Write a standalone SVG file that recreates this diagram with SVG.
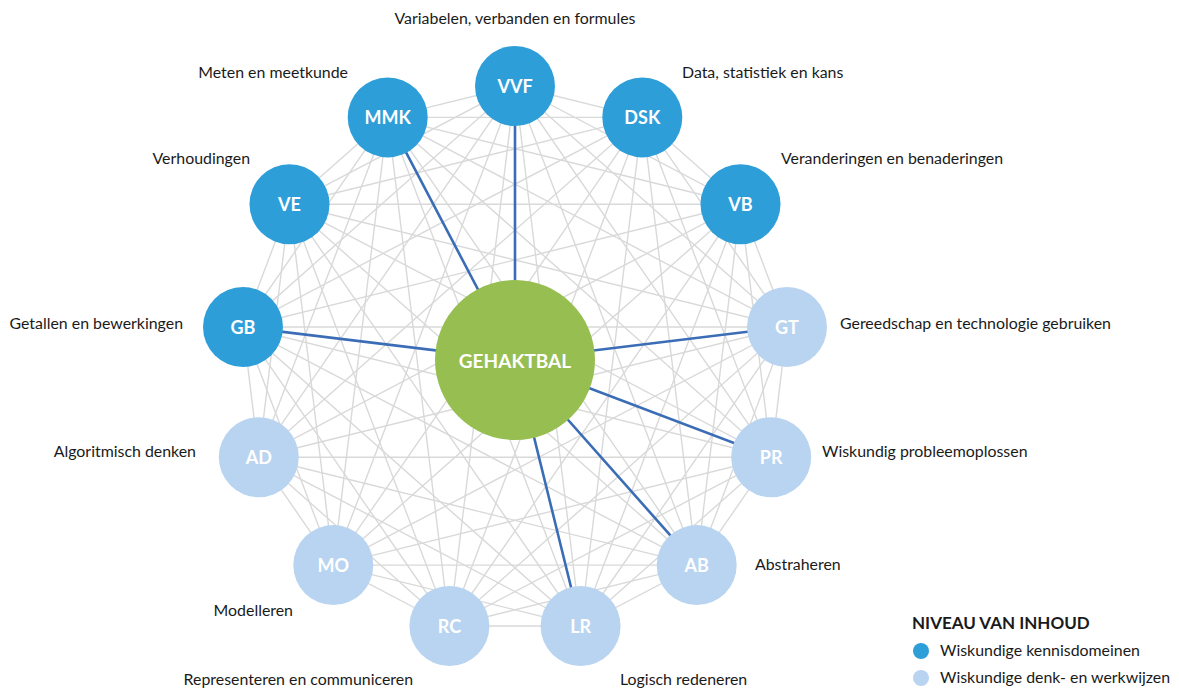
<svg xmlns="http://www.w3.org/2000/svg" width="1179" height="688" viewBox="0 0 1179 688">
<style>
.e{stroke:#d9d9d9;stroke-width:1.4;fill:none}
.b{stroke:#3a6db5;stroke-width:2.6;fill:none}
.k{fill:#2e9ed9}
.w{fill:#b9d4f0}
.c{fill:#96be50}
.n{font-family:Lato,"Open Sans","Liberation Sans",sans-serif;font-weight:bold;font-size:18px;fill:#fff;text-anchor:middle;dominant-baseline:central}
.g{font-size:19px}
.l{font-family:Lato,"Open Sans","Liberation Sans",sans-serif;font-size:15.9px;fill:#1a1a1a}
.h{font-family:Lato,"Open Sans","Liberation Sans",sans-serif;font-size:17px;font-weight:bold;fill:#1a1a1a}
</style>
<rect width="1179" height="688" fill="#fff"/>
<g id="connectors">
<g id="gray-edges">
<path class="e" d="M515,86L642.3,117.4M515,86L740.5,204.3M515,86L787,327M515,86L771.2,457.2M515,86L696.7,565.1M515,86L580.6,626M515,86L449.4,626M515,86L333.3,565.1M515,86L258.8,457.2M515,86L243,327M515,86L289.5,204.3M515,86L387.7,117.4"/>
<path class="e" d="M642.3,117.4L740.5,204.3M642.3,117.4L787,327M642.3,117.4L771.2,457.2M642.3,117.4L696.7,565.1M642.3,117.4L580.6,626M642.3,117.4L449.4,626M642.3,117.4L333.3,565.1M642.3,117.4L258.8,457.2M642.3,117.4L243,327M642.3,117.4L289.5,204.3M642.3,117.4L387.7,117.4"/>
<path class="e" d="M740.5,204.3L787,327M740.5,204.3L771.2,457.2M740.5,204.3L696.7,565.1M740.5,204.3L580.6,626M740.5,204.3L449.4,626M740.5,204.3L333.3,565.1M740.5,204.3L258.8,457.2M740.5,204.3L243,327M740.5,204.3L289.5,204.3M740.5,204.3L387.7,117.4"/>
<path class="e" d="M787,327L771.2,457.2M787,327L696.7,565.1M787,327L580.6,626M787,327L449.4,626M787,327L333.3,565.1M787,327L258.8,457.2M787,327L243,327M787,327L289.5,204.3M787,327L387.7,117.4"/>
<path class="e" d="M771.2,457.2L696.7,565.1M771.2,457.2L580.6,626M771.2,457.2L449.4,626M771.2,457.2L333.3,565.1M771.2,457.2L258.8,457.2M771.2,457.2L243,327M771.2,457.2L289.5,204.3M771.2,457.2L387.7,117.4"/>
<path class="e" d="M696.7,565.1L580.6,626M696.7,565.1L449.4,626M696.7,565.1L333.3,565.1M696.7,565.1L258.8,457.2M696.7,565.1L243,327M696.7,565.1L289.5,204.3M696.7,565.1L387.7,117.4"/>
<path class="e" d="M580.6,626L449.4,626M580.6,626L333.3,565.1M580.6,626L258.8,457.2M580.6,626L243,327M580.6,626L289.5,204.3M580.6,626L387.7,117.4"/>
<path class="e" d="M449.4,626L333.3,565.1M449.4,626L258.8,457.2M449.4,626L243,327M449.4,626L289.5,204.3M449.4,626L387.7,117.4"/>
<path class="e" d="M333.3,565.1L258.8,457.2M333.3,565.1L243,327M333.3,565.1L289.5,204.3M333.3,565.1L387.7,117.4"/>
<path class="e" d="M258.8,457.2L243,327M258.8,457.2L289.5,204.3M258.8,457.2L387.7,117.4"/>
<path class="e" d="M243,327L289.5,204.3M243,327L387.7,117.4"/>
<path class="e" d="M289.5,204.3L387.7,117.4"/>
</g>
<g id="blue-edges">
<path class="b" d="M515,360L387.7,117.4M515,360L515,86M515,360L243,327M515,360L787,327M515,360L771.2,457.2M515,360L696.7,565.1M515,360L580.6,626"/>
</g>
</g>
<g id="node-VVF"><circle class="k" cx="515" cy="86" r="40"/><text class="n" x="515" y="86">VVF</text><text class="l" x="515" y="24" text-anchor="middle">Variabelen, verbanden en formules</text></g>
<g id="node-DSK"><circle class="k" cx="642.3" cy="117.4" r="40"/><text class="n" x="642.3" y="117.4">DSK</text><text class="l" x="682" y="78">Data, statistiek en kans</text></g>
<g id="node-VB"><circle class="k" cx="740.5" cy="204.3" r="40"/><text class="n" x="740.5" y="204.3">VB</text><text class="l" x="781" y="164">Veranderingen en benaderingen</text></g>
<g id="node-GT"><circle class="w" cx="787" cy="327" r="40"/><text class="n" x="787" y="327">GT</text><text class="l" x="840" y="329">Gereedschap en technologie gebruiken</text></g>
<g id="node-PR"><circle class="w" cx="771.2" cy="457.2" r="40"/><text class="n" x="771.2" y="457.2">PR</text><text class="l" x="822" y="457">Wiskundig probleemoplossen</text></g>
<g id="node-AB"><circle class="w" cx="696.7" cy="565.1" r="40"/><text class="n" x="696.7" y="565.1">AB</text><text class="l" x="755" y="570">Abstraheren</text></g>
<g id="node-LR"><circle class="w" cx="580.6" cy="626" r="40"/><text class="n" x="580.6" y="626">LR</text><text class="l" x="620" y="685">Logisch redeneren</text></g>
<g id="node-RC"><circle class="w" cx="449.4" cy="626" r="40"/><text class="n" x="449.4" y="626">RC</text><text class="l" x="413" y="685" text-anchor="end">Representeren en communiceren</text></g>
<g id="node-MO"><circle class="w" cx="333.3" cy="565.1" r="40"/><text class="n" x="333.3" y="565.1">MO</text><text class="l" x="293" y="616" text-anchor="end">Modelleren</text></g>
<g id="node-AD"><circle class="w" cx="258.8" cy="457.2" r="40"/><text class="n" x="258.8" y="457.2">AD</text><text class="l" x="196" y="457" text-anchor="end">Algoritmisch denken</text></g>
<g id="node-GB"><circle class="k" cx="243" cy="327" r="40"/><text class="n" x="243" y="327">GB</text><text class="l" x="183" y="329" text-anchor="end">Getallen en bewerkingen</text></g>
<g id="node-VE"><circle class="k" cx="289.5" cy="204.3" r="40"/><text class="n" x="289.5" y="204.3">VE</text><text class="l" x="250" y="164" text-anchor="end">Verhoudingen</text></g>
<g id="node-MMK"><circle class="k" cx="387.7" cy="117.4" r="40"/><text class="n" x="387.7" y="117.4">MMK</text><text class="l" x="348" y="78" text-anchor="end">Meten en meetkunde</text></g>
<g id="node-GEHAKTBAL"><circle class="c" cx="515" cy="360" r="80"/><text class="n g" x="515" y="360">GEHAKTBAL</text></g>
<g id="legend">
<text class="h" x="912" y="629">NIVEAU VAN INHOUD</text>
<circle class="k" cx="921" cy="651" r="8"/><text class="l" x="940" y="656">Wiskundige kennisdomeinen</text>
<circle class="w" cx="921" cy="678" r="8"/><text class="l" x="940" y="683">Wiskundige denk- en werkwijzen</text>
</g>
</svg>
